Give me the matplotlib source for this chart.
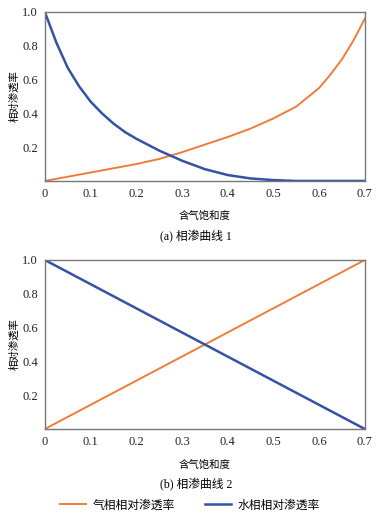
import matplotlib
matplotlib.use('Agg')
import matplotlib.pyplot as plt
from matplotlib.lines import Line2D

plt.rcParams['font.family'] = ['Liberation Serif', 'Noto Sans CJK SC', 'DejaVu Sans']

# panel (a): relative permeability curve 1
sg_water_a = [0, 0.025, 0.05, 0.075, 0.1, 0.125, 0.15, 0.175, 0.2, 0.25, 0.3,
              0.35, 0.4, 0.45, 0.5, 0.55, 0.6, 0.65, 0.7]
kr_water_a = [1.0, 0.82, 0.67, 0.56, 0.47, 0.40, 0.34, 0.29, 0.25, 0.18, 0.12,
              0.07, 0.035, 0.015, 0.005, 0.0, 0.0, 0.0, 0.0]
sg_gas_a = [0, 0.05, 0.1, 0.15, 0.2, 0.25, 0.3, 0.35, 0.4, 0.45, 0.5, 0.55,
            0.6, 0.625, 0.65, 0.675, 0.7]
kr_gas_a = [0.0, 0.025, 0.05, 0.075, 0.10, 0.13, 0.17, 0.215, 0.26, 0.31, 0.37,
            0.44, 0.55, 0.63, 0.72, 0.83, 0.96]

# panel (b): relative permeability curve 2 (linear)
sg_b = [0, 0.7]
kr_gas_b = [0.0, 1.0]
kr_water_b = [1.0, 0.0]

x_ticks = [0, 0.1, 0.2, 0.3, 0.4, 0.5, 0.6, 0.7]
x_labels = ['0', '0.1', '0.2', '0.3', '0.4', '0.5', '0.6', '0.7']
y_ticks = [0.2, 0.4, 0.6, 0.8, 1.0]
y_labels = ['0.2', '0.4', '0.6', '0.8', '1.0']

c_gas = '#ee7d3a'
c_water = '#3552a5'

fig = plt.figure(figsize=(3.8, 5.2), dpi=100)
ax_a = fig.add_axes([0.118, 0.652, 0.842, 0.325])
ax_b = fig.add_axes([0.118, 0.175, 0.842, 0.325])

ax_a.plot(sg_gas_a, kr_gas_a, color=c_gas, lw=1.4)
ax_a.plot(sg_water_a, kr_water_a, color=c_water, lw=1.8)
ax_b.plot(sg_b, kr_gas_b, color=c_gas, lw=1.4)
ax_b.plot(sg_b, kr_water_b, color=c_water, lw=1.8)

for ax in (ax_a, ax_b):
    ax.set_xlim(0, 0.7)
    ax.set_ylim(0, 1.0)
    ax.set_xticks(x_ticks)
    ax.set_xticklabels(x_labels)
    ax.set_yticks(y_ticks)
    ax.set_yticklabels(y_labels)
    ax.tick_params(length=0, labelsize=9, pad=5, colors='#222222')
    for s in ax.spines.values():
        s.set_color('#777777')
        s.set_linewidth(1.0)
    ax.set_xlabel('含气饱和度', fontsize=7.5, labelpad=9)
    ax.set_ylabel('相对渗透率', fontsize=7.5, labelpad=2)

fig.text(0.515, 0.544, '(a) 相渗曲线 1', ha='center', va='center', fontsize=8.5)
fig.text(0.515, 0.067, '(b) 相渗曲线 2', ha='center', va='center', fontsize=8.5)

handles = [Line2D([], [], color=c_gas, lw=1.4),
           Line2D([], [], color=c_water, lw=1.8)]
fig.legend(handles, ['气相相对渗透率', '水相相对渗透率'], loc='center',
           bbox_to_anchor=(0.5, 0.028), ncol=2, frameon=False, fontsize=8.5,
           handlelength=2.2, columnspacing=2.5, handletextpad=0.6)

fig.savefig('out.png', dpi=100)
